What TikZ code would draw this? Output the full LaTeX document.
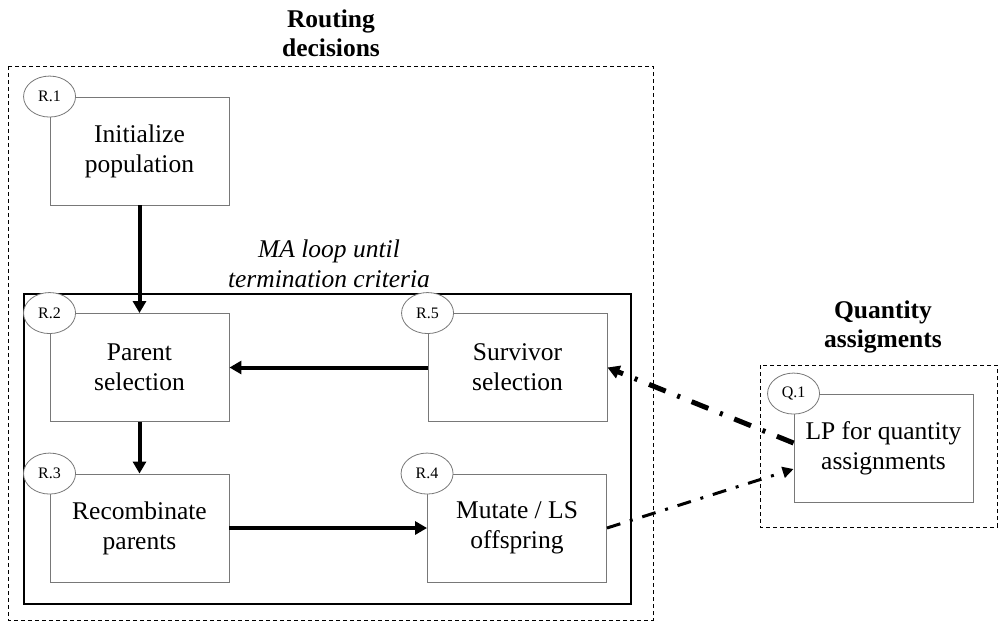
\documentclass[tikz,border=0pt]{standalone}
\usepackage{fontspec}
\setmainfont{Liberation Serif}
\usetikzlibrary{arrows.meta,shapes.geometric}
\definecolor{boxgray}{RGB}{120,120,120}

\begin{document}
\begin{tikzpicture}[x=1pt,y=-1pt,
  stepbox/.style={draw=boxgray,line width=0.9pt,fill=white,
    minimum width=179pt,minimum height=108pt,inner sep=0pt,align=center,
    font=\fontsize{25.5}{30}\selectfont},
  tag/.style={ellipse,draw=boxgray,line width=0.8pt,fill=white,
    minimum width=52pt,minimum height=41pt,inner sep=0pt,
    font=\fontsize{16}{18}\selectfont},
  flow/.style={line width=4pt,-{Triangle[length=12pt,width=13pt]}},
  lpfeed/.style={line width=5pt,dash pattern=on 18pt off 12.5pt on 3pt off 12.5pt,
    -{Triangle[length=12pt,width=13pt]}},
  lpsend/.style={line width=3pt,dash pattern=on 14pt off 10pt on 3pt off 10pt,
    -{Triangle[length=11pt,width=11pt]}},
  region/.style={draw,line width=0.9pt,dash pattern=on 4pt off 3pt},
  title/.style={align=center,font=\fontsize{25.5}{29}\selectfont\bfseries},
  note/.style={align=center,font=\fontsize{25.5}{30}\selectfont\itshape}
]
\useasboundingbox (0,0) rectangle (1001,622);

% grouping frames
\draw[region] (8,66) rectangle (653,620);
\draw[region] (760,365) rectangle (997,527);
\draw[line width=2pt] (24,294) rectangle (631,604);

% headings
\node[title] (routing) at (331,33) {Routing\\decisions};
\node[title] (quantity) at (883,327) {Quantity\\assigments};
\node[note] (loop) at (329,264) {MA loop until\\termination criteria};

% steps
\node[stepbox] (r1) at (139.5,151) {Initialize\\population};
\node[stepbox] (r2) at (139.5,367.5) {Parent\\selection};
\node[stepbox] (r3) at (139.5,528) {Recombinate\\parents};
\node[stepbox] (r4) at (517,528) {Mutate / LS\\offspring};
\node[stepbox] (r5) at (517.5,367.5) {Survivor\\selection};
\node[stepbox] (q1) at (883.5,448) {LP for quantity\\assignments};

% step tags
\node[tag] (t1) at (r1.north west) {R.1};
\node[tag] (t2) at (r2.north west) {R.2};
\node[tag] (t3) at (r3.north west) {R.3};
\node[tag] (t4) at (r4.north west) {R.4};
\node[tag] (t5) at (r5.north west) {R.5};
\node[tag] (tq) at (q1.north west) {Q.1};

% flow of the memetic algorithm
\draw[flow] (r1.south) -- (r2.north);
\draw[flow] (r2.south) -- (r3.north);
\draw[flow] (r3.east) -- (r4.west);
\draw[flow] (r5.west) -- (r2.east);

% exchange with the LP
\draw[lpsend] (r4.east) -- ([yshift=-21pt]q1.west);
\draw[lpfeed] ([yshift=5pt]q1.west) -- (r5.east);
\end{tikzpicture}
\end{document}
